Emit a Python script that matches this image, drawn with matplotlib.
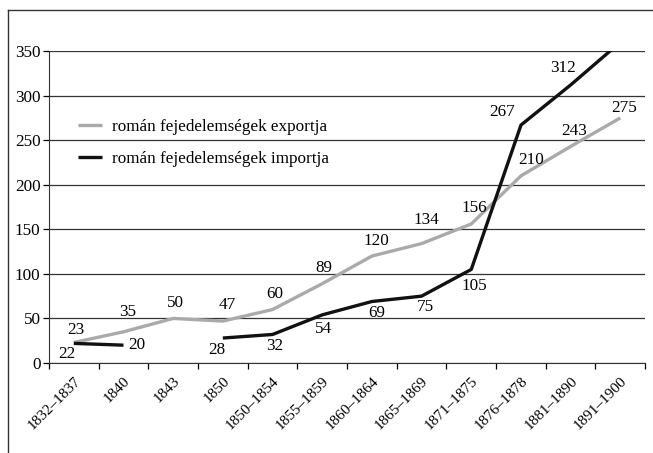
import matplotlib
matplotlib.use('Agg')
from matplotlib import pyplot as plt
from matplotlib.lines import Line2D
import numpy as np

categories = ['1832–1837', '1840', '1843', '1850', '1850–1854', '1855–1859',
              '1860–1864', '1865–1869', '1871–1875', '1876–1878', '1881–1890', '1891–1900']
export_values = [23, 35, 50, 47, 60, 89, 120, 134, 156, 210, 243, 275]
import_values = [22, 20, None, 28, 32, 54, 69, 75, 105, 267, 312, 360]
export_label = 'román fejedelemségek exportja'
import_label = 'román fejedelemségek importja'

# label offsets in pixels (dx, dy up)
export_offsets = [(2, 12), (4, 20), (2, 15), (4, 16), (2, 16), (2, 16),
                  (5, 15), (5, 24), (3, 16), (10, 16), (3, 15), (4, 10)]
import_offsets = [(-7, -11), (13, 0), None, (-6, -12), (2, -12), (1, -14),
                  (5, -11), (4, -11), (3, -17), (-19, 13), (-8, 17), None]

plt.rcParams['font.family'] = ['Liberation Serif', 'DejaVu Serif']
plt.rcParams['font.size'] = 12.3

fig = plt.figure(figsize=(6.53, 4.53), dpi=100)
ax = fig.add_axes([0.075, 0.1987, 0.913, 0.6885])

x = np.arange(len(categories))
exp = np.array(export_values, dtype=float)
imp = np.array([np.nan if v is None else v for v in import_values], dtype=float)

ax.plot(x, exp, color='#aaaaaa', lw=2.4, solid_capstyle='butt', label=export_label, zorder=3)
ax.plot(x, imp, color='#111111', lw=2.4, solid_capstyle='butt', label=import_label, zorder=4)

ax.set_ylim(0, 350)
ax.set_xlim(-0.5, len(categories) - 0.5)
ax.set_yticks(range(0, 351, 50))
ax.yaxis.grid(True, color='#333333', lw=0.9)
ax.set_axisbelow(True)

ax.set_xticks(x)
ax.set_xticklabels(categories, rotation=45, ha='right', rotation_mode='anchor', fontsize=11)
ax.set_xticks(np.arange(-0.5, len(categories), 1), minor=True)
ax.tick_params(axis='x', which='major', length=0, pad=8)
ax.tick_params(axis='x', which='minor', length=4, width=0.9, direction='out')
ax.tick_params(axis='y', length=4, width=0.9, pad=2)

for s in ['top', 'right']:
    ax.spines[s].set_visible(False)
ax.spines['left'].set_color('#333333')
ax.spines['bottom'].set_color('#333333')

k = 0.72
for i, v in enumerate(export_values):
    dx, dy = export_offsets[i]
    ax.annotate(str(v), (i, v), xytext=(dx * k, dy * k), textcoords='offset points',
                ha='center', va='center', zorder=5)
for i, v in enumerate(import_values):
    if v is None or v > 350 or import_offsets[i] is None:
        continue
    dx, dy = import_offsets[i]
    ax.annotate(str(v), (i, v), xytext=(dx * k, dy * k), textcoords='offset points',
                ha='center', va='center', zorder=5)

ax.legend(loc='upper left', bbox_to_anchor=(0.035, 0.81), frameon=False,
          handlelength=1.4, handletextpad=0.55, labelspacing=0.95, borderpad=0)

# outer frame (top and left)
fig.add_artist(Line2D([8 / 653, 1], [1 - 10 / 453, 1 - 10 / 453], color='#333333', lw=1))
fig.add_artist(Line2D([8 / 653, 8 / 653], [0, 1 - 10 / 453], color='#333333', lw=1))

plt.savefig('out.png', dpi=100)
